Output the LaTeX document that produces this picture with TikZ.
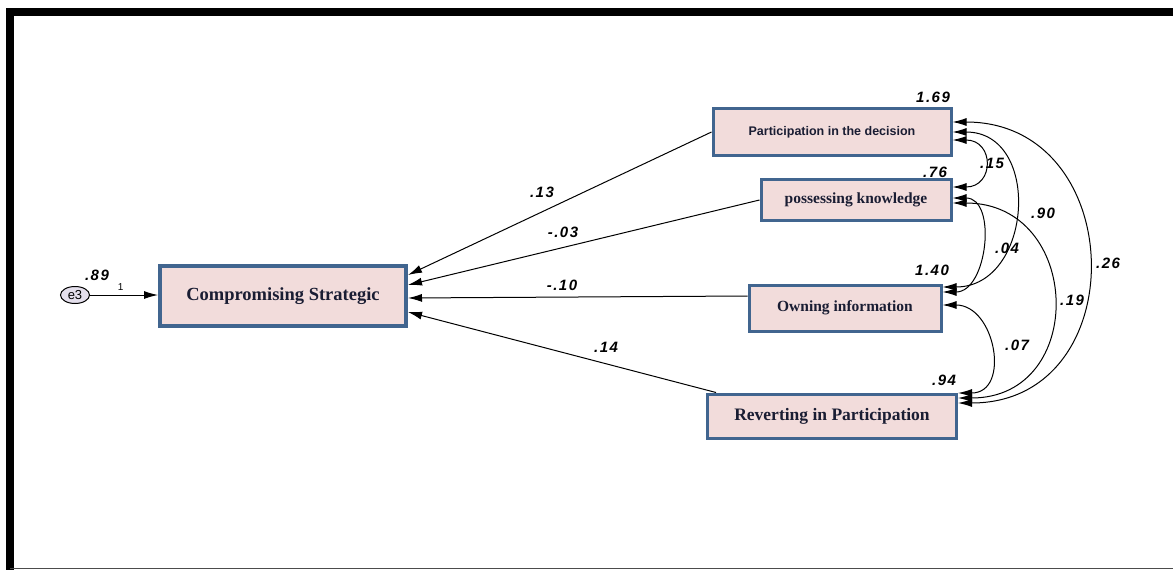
\documentclass[tikz,border=0pt]{standalone}
\usepackage{fontspec}
\setmainfont{Liberation Serif}
\setsansfont{Liberation Sans}
\newfontfamily\coeffont[LetterSpace=10]{Liberation Sans}
\usetikzlibrary{arrows.meta,shapes.geometric}
\definecolor{boxblue}{HTML}{41658F}
\definecolor{boxpink}{HTML}{F2DCDB}
\definecolor{errfill}{HTML}{E4DFEC}
\definecolor{txtnavy}{HTML}{1A1D33}

\begin{document}
\begin{tikzpicture}[x=1pt,y=-1pt,
		var/.style={draw=boxblue,fill=boxpink,line width=3pt,inner sep=0pt,text=txtnavy,
			font=\bfseries\fontsize{15.5}{18}\selectfont},
		coef/.style={inner sep=0pt,font=\coeffont\bfseries\itshape\fontsize{15}{17}\selectfont},
		reg/.style={-{Latex[length=14pt,width=8pt]},line width=1pt},
		cov/.style={{Latex[length=14pt,width=8pt]}-{Latex[length=14pt,width=8pt]},line width=1pt}]
	\useasboundingbox (0,0) rectangle (1173,570);
	% frame
	\draw[line width=8pt] (6,12) -- (1173,12);
	\draw[line width=8pt] (10,8) -- (10,570);
	\draw[line width=1.5pt,black!70] (10,568.5) -- (1173,568.5);

	% variables
	\node[var,line width=4pt,minimum width=246pt,minimum height=60pt,font=\bfseries\fontsize{18.5}{20}\selectfont] (cs) at (283,296) {Compromising Strategic};
	\node[var,minimum width=238pt,minimum height=47pt,font=\sffamily\bfseries\fontsize{12.5}{14}\selectfont] (part) at (832,132) {Participation in the decision};
	\node[var,minimum width=190pt,minimum height=41pt] (poss) at (856,200) {possessing knowledge};
	\node[var,minimum width=192pt,minimum height=46pt] (own) at (845,308) {Owning information};
	\node[var,minimum width=249pt,minimum height=44pt,font=\bfseries\fontsize{17.5}{19}\selectfont] (rev) at (832,416) {Reverting in Participation};
	\node[ellipse,draw,fill=errfill,line width=1pt,minimum width=29pt,minimum height=17pt,inner sep=0pt,
		font=\sffamily\fontsize{13}{14}\selectfont] (e3) at (75,295) {e3};

	% variances
	\node[coef] (v89) at (97,275) {.89};
	\node[coef] (v169) at (933,97) {1.69};
	\node[coef] (v76) at (935,172) {.76};
	\node[coef] (v140) at (932,270) {1.40};
	\node[coef] (v94) at (944,380) {.94};

	% regression paths
	\draw[reg] (e3) -- (cs.west |- e3) node[pos=0.45,above=1pt,font=\sffamily\fontsize{10}{11}\selectfont] (w1) {1};
	\draw[reg] (part.west) -- ([yshift=21pt]cs.east);
	\draw[reg] (poss.west) -- ([yshift=11pt]cs.east);
	\draw[reg] ([yshift=12pt]own.west) -- ([yshift=-2pt]cs.east);
	\draw[reg] ([xshift=10pt]rev.north west) -- ([yshift=-16pt]cs.east);
	\node[coef] (b13) at (542,192) {.13};
	\node[coef] (b03) at (563,232) {-.03};
	\node[coef] (b10) at (562,285) {-.10};
	\node[coef] (b14) at (606,347) {.14};

	% covariances
	\draw[cov] ([yshift=-8pt]part.east) .. controls +(42,0) and +(42,0) .. ([yshift=13pt]poss.east);
	\draw[cov] (part.east) .. controls +(90,0) and +(90,0) .. ([yshift=21pt]own.east);
	\draw[cov] ([yshift=10pt]part.east) .. controls +(177,0) and +(177,0) .. ([yshift=13pt]rev.east);
	\draw[cov] ([yshift=2pt]poss.east) .. controls +(45,0) and +(45,0) .. ([yshift=16pt]own.east);
	\draw[cov] ([yshift=-3pt]poss.east) .. controls +(130,0) and +(130,0) .. ([yshift=18pt]rev.east);
	\draw[cov] ([yshift=3pt]own.east) .. controls +(53,0) and +(53,0) .. ([yshift=23pt]rev.east);
	\node[coef] (c15) at (992,163) {.15};
	\node[coef] (c90) at (1043,213) {.90};
	\node[coef] (c26) at (1108,263) {.26};
	\node[coef] (c04) at (1007,248) {.04};
	\node[coef] (c19) at (1072,300) {.19};
	\node[coef] (c07) at (1017,345) {.07};
\end{tikzpicture}
\end{document}
